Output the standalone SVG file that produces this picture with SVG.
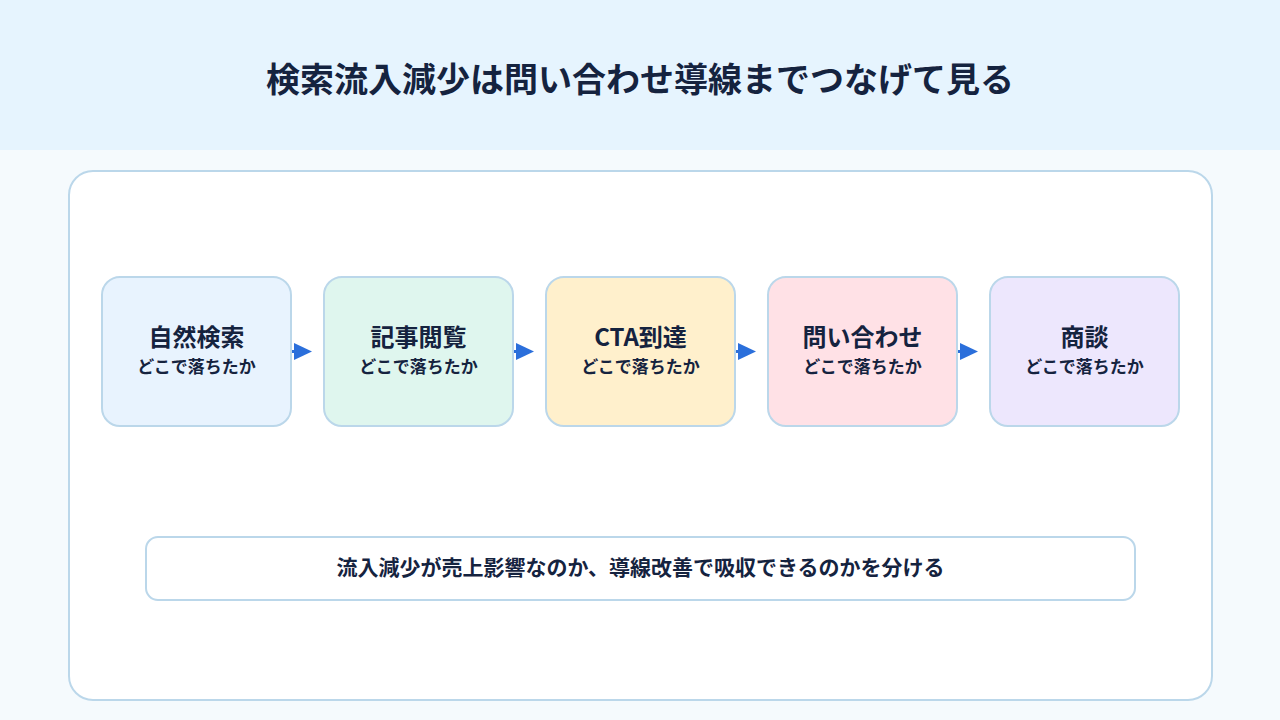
<svg xmlns="http://www.w3.org/2000/svg" width="1280" height="720" viewBox="0 0 1280 720">
<defs>
<style>
.t{font-family:"Noto Sans CJK JP","Noto Sans",sans-serif;font-weight:700;fill:#15233F;text-anchor:middle}
.node{stroke:#BBD7EA;stroke-width:2}
.conn{stroke:#2B6FDB;stroke-width:3;fill:none}
.ah{fill:#2B6FDB}
</style>
</defs>
<rect width="1280" height="720" fill="#F5FAFD"/>
<rect width="1280" height="150" fill="#E6F4FE"/>
<text class="t" x="640" y="92" font-size="34">検索流入減少は問い合わせ導線までつなげて見る</text>
<rect x="69" y="171" width="1143" height="529" rx="24" fill="#FFFFFF" stroke="#BBD7EA" stroke-width="2"/>
<g id="connectors">
<line class="conn" x1="292" y1="351.5" x2="296" y2="351.5"/><polygon class="ah" points="294,343 312,351.5 294,360"/>
<line class="conn" x1="514" y1="351.5" x2="518" y2="351.5"/><polygon class="ah" points="516,343 534,351.5 516,360"/>
<line class="conn" x1="736" y1="351.5" x2="740" y2="351.5"/><polygon class="ah" points="738,343 756,351.5 738,360"/>
<line class="conn" x1="958" y1="351.5" x2="962" y2="351.5"/><polygon class="ah" points="960,343 978,351.5 960,360"/>
</g>
<g id="n1"><rect class="node" x="102" y="277" width="189" height="149" rx="18" fill="#E8F3FE"/>
<text class="t" x="196.5" y="346" font-size="24">自然検索</text><text class="t" x="196.5" y="373" font-size="17">どこで落ちたか</text></g>
<g id="n2"><rect class="node" x="324" y="277" width="189" height="149" rx="18" fill="#DFF6EE"/>
<text class="t" x="418.5" y="346" font-size="24">記事閲覧</text><text class="t" x="418.5" y="373" font-size="17">どこで落ちたか</text></g>
<g id="n3"><rect class="node" x="546" y="277" width="189" height="149" rx="18" fill="#FFF0CC"/>
<text class="t" x="640.5" y="346" font-size="24">CTA到達</text><text class="t" x="640.5" y="373" font-size="17">どこで落ちたか</text></g>
<g id="n4"><rect class="node" x="768" y="277" width="189" height="149" rx="18" fill="#FFE1E6"/>
<text class="t" x="862.5" y="346" font-size="24">問い合わせ</text><text class="t" x="862.5" y="373" font-size="17">どこで落ちたか</text></g>
<g id="n5"><rect class="node" x="990" y="277" width="189" height="149" rx="18" fill="#EDE7FD"/>
<text class="t" x="1084.5" y="346" font-size="24">商談</text><text class="t" x="1084.5" y="373" font-size="17">どこで落ちたか</text></g>
<g id="note"><rect x="146" y="537" width="989" height="63" rx="12" fill="#FFFFFF" stroke="#BBD7EA" stroke-width="2"/>
<text class="t" x="640.5" y="575" font-size="21">流入減少が売上影響なのか、導線改善で吸収できるのかを分ける</text></g>
</svg>
